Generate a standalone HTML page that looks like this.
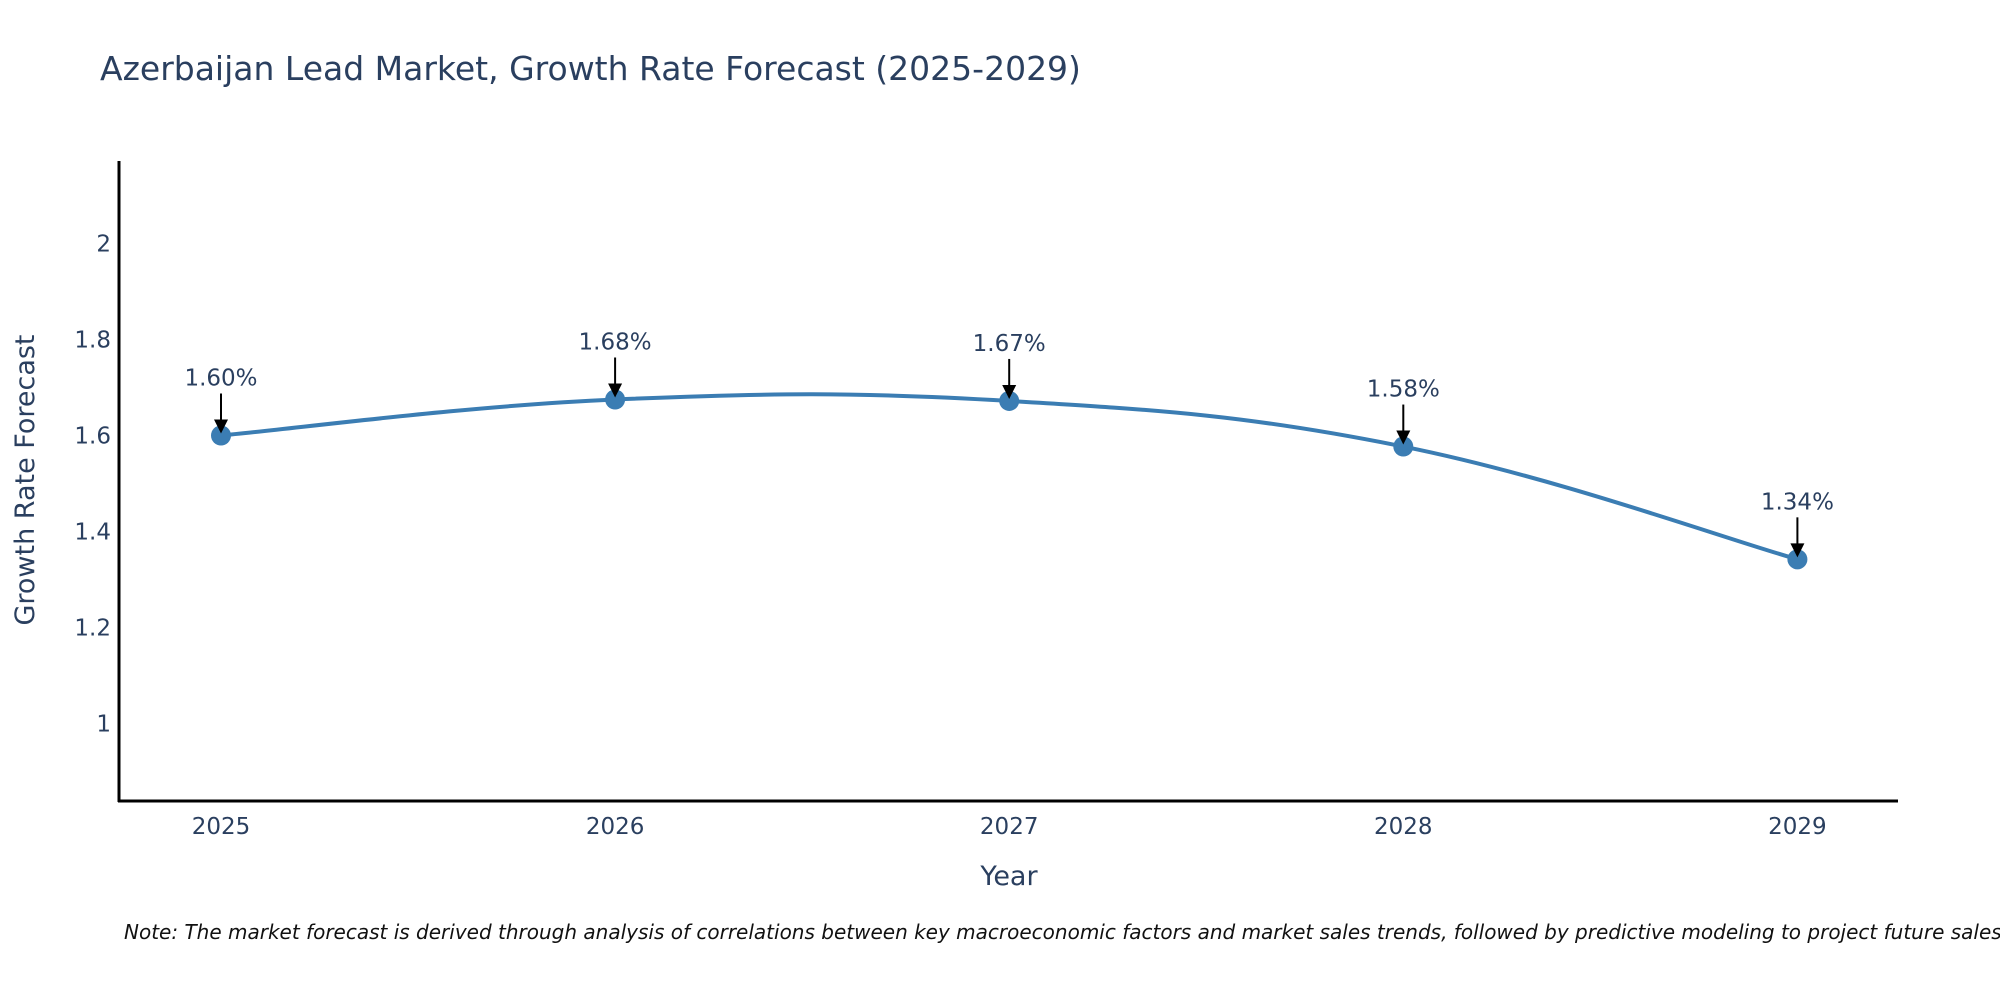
<!DOCTYPE html>
<html><head><meta charset="utf-8"><style>
html,body{margin:0;padding:0;background:#fff;}
svg{display:block;font-family:"DejaVu Sans","Liberation Sans",sans-serif;}
</style></head><body>
<svg id="chart" width="2000" height="1000" viewBox="0 0 2000 1000">
<text x="100" y="80" font-size="33" fill="#2a3f5f">Azerbaijan Lead Market, Growth Rate Forecast (2025-2029)</text>
<g id="yticks"></g>
<g id="xticks"></g>
<line x1="119" y1="161" x2="119" y2="802" stroke="#000" stroke-width="3"/>
<line x1="118" y1="801" x2="1898" y2="801" stroke="#000" stroke-width="3"/>
<text transform="translate(34,480) rotate(-90)" text-anchor="middle" font-size="27" fill="#2a3f5f">Growth Rate Forecast</text>
<text x="1009" y="885" text-anchor="middle" font-size="27" fill="#2a3f5f">Year</text>
<path id="line" fill="none" stroke="#3b7db3" stroke-width="4"/>
<g id="marks"></g>
<text x="124" y="939" font-size="20" font-style="italic" fill="#111">Note: The market forecast is derived through analysis of correlations between key macroeconomic factors and market sales trends, followed by predictive modeling to project future sales.</text>
</svg>
<script>
const years = ["2025","2026","2027","2028","2029"];
const values = [1.60, 1.675, 1.672, 1.577, 1.342];
const labels = ["1.60%","1.68%","1.67%","1.58%","1.34%"];
const yTicks = [1, 1.2, 1.4, 1.6, 1.8, 2];
const yTickLabels = ["1","1.2","1.4","1.6","1.8","2"];

const NS="http://www.w3.org/2000/svg";
function xs(i){return 221 + i*394.1;}
function ys(v){return 723.5 - (v-1)*480;}
function mk(tag,attrs,parent){const e=document.createElementNS(NS,tag);for(const k in attrs)e.setAttribute(k,attrs[k]);parent.appendChild(e);return e;}
const yt=document.getElementById('yticks');
yTicks.forEach((v,i)=>{
  const t=mk('text',{x:111,y:ys(v)+8,'text-anchor':'end','font-size':23,fill:'#2a3f5f'},yt);
  
  
  t.textContent=yTickLabels[i];
});
const xt=document.getElementById('xticks');
years.forEach((y,i)=>{
  const t=mk('text',{x:xs(i),y:834,'text-anchor':'middle','font-size':23,fill:'#2a3f5f'},xt);
  
  
  t.textContent=y;
});
const pts=values.map((v,i)=>[xs(i),ys(v)]);
let d="M"+pts[0][0]+","+pts[0][1];
const s=0.65;
for(let i=0;i<pts.length-1;i++){
  const p0=pts[Math.max(i-1,0)],p1=pts[i],p2=pts[i+1],p3=pts[Math.min(i+2,pts.length-1)];
  const c1=[p1[0]+(p2[0]-p0[0])*s*0.3,p1[1]+(p2[1]-p0[1])*s*0.3];
  const c2=[p2[0]-(p3[0]-p1[0])*s*0.3,p2[1]-(p3[1]-p1[1])*s*0.3];
  d+=" C"+c1[0]+","+c1[1]+" "+c2[0]+","+c2[1]+" "+p2[0]+","+p2[1];
}
document.getElementById('line').setAttribute('d',d);
const g=document.getElementById('marks');
pts.forEach((p,i)=>{
  const c=mk('circle',{cx:p[0],cy:p[1],r:10,fill:'#3b7db3'},g);
  
  
  const a=mk('line',{x1:p[0],y1:p[1]-42,x2:p[0],y2:p[1]-14,stroke:'#000','stroke-width':2},g);
  
  
  const h=mk('polygon',{points:(p[0]-7)+","+(p[1]-16)+" "+(p[0]+7)+","+(p[1]-16)+" "+p[0]+","+(p[1]-2),fill:'#000'},g);
  
  
  const t=mk('text',{x:p[0],y:p[1]-50,'text-anchor':'middle','font-size':23,fill:'#2a3f5f'},g);
  
  
  t.textContent=labels[i];
});
</script>
</body></html>
